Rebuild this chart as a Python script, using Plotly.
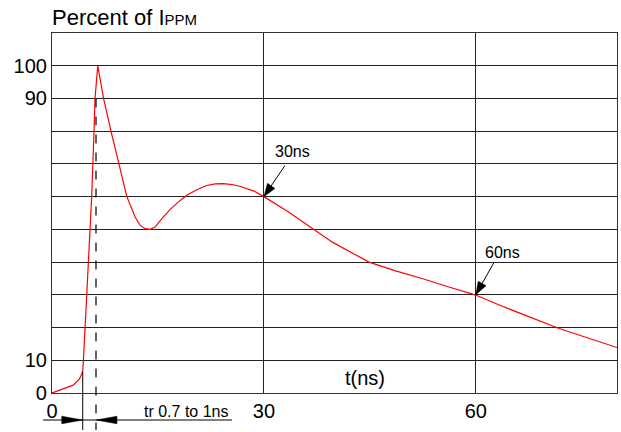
import plotly.graph_objects as go

# ---- data ----
t_ns = [0, 1.5, 3.0, 3.9, 4.25, 4.35, 4.45, 5.24, 5.48, 5.62, 5.95, 6.09, 6.48,
        7.3, 8.35, 9.5, 10.6, 11.3, 11.77, 12.48, 13.19, 13.9, 14.6,
        15.56, 16.74, 17.9, 19.1, 20.5, 21.9, 23.1, 24.3, 25.5, 26.7,
        28.6, 30.0, 33.5, 37.1, 39.7, 42.5, 44.9, 48.65, 52.4, 56.2,
        59.9, 64.0, 71.8, 80.0]
pct = [0, 1.1, 2.4, 4.3, 5.8, 6.5, 10, 45, 58, 60, 80, 90, 100,
       90, 80, 70, 60, 56.3, 53.8, 51.2, 50.2, 50, 50.7,
       53.3, 56.1, 58.4, 60.4, 62.1, 63.4, 63.9, 64.0, 63.7, 63.1,
       61.7, 60, 55.3, 50, 46.1, 42.8, 40, 37.3, 35, 32.4,
       30, 26.3, 19.7, 13.9]

x_ticks = [0, 30, 60]
x_tick_text = ["0", "30", "60"]
y_grid = [0, 10, 20, 30, 40, 50, 60, 70, 80, 90, 100, 110]
y_tick_text = ["0", "10", "", "", "", "", "", "", "", "90", "100", ""]

t_start = 4.35      # start of rise (knee of curve)
pct_start = 6.5
t_rise_end = 6.23   # dashed marker
pct_90 = 90
t_30, pct_30 = 30, 60
t_60, pct_60 = 60, 30

X_RANGE = [0, 80]
Y_RANGE = [0, 110]

# ---- layout geometry ----
W_FIG, H_FIG = 621, 432
L, R, T, B = 52, 4, 33, 39
PW, PH = W_FIG - L - R, H_FIG - T - B
FONT = "Arial, Liberation Sans, sans-serif"


def dx(v):
    return L + (v - X_RANGE[0]) / (X_RANGE[1] - X_RANGE[0]) * PW


def dy(v):
    return T + PH - (v - Y_RANGE[0]) / (Y_RANGE[1] - Y_RANGE[0]) * PH


def pp(px, py):
    return (px - L) / PW, (T + PH - py) / PH


shapes = []


def line_px(x0, y0, x1, y1, color="black", width=1, dash="solid"):
    a, b = pp(x0, y0)
    c, d = pp(x1, y1)
    shapes.append(dict(type="line", xref="paper", yref="paper", x0=a, y0=b, x1=c, y1=d,
                       line=dict(color=color, width=width, dash=dash), layer="above"))


def tri_px(tipx, tipy, tailx, taily, length, half):
    vx, vy = tipx - tailx, tipy - taily
    n = (vx ** 2 + vy ** 2) ** 0.5
    ux, uy = vx / n, vy / n
    bx, by = tipx - ux * length, tipy - uy * length
    nx, ny = -uy, ux
    pts = [(tipx, tipy), (bx + nx * half, by + ny * half), (bx - nx * half, by - ny * half)]
    ppts = [pp(a, b) for a, b in pts]
    path = "M " + " L ".join(f"{a:.5f},{b:.5f}" for a, b in ppts) + " Z"
    shapes.append(dict(type="path", xref="paper", yref="paper", path=path,
                       fillcolor="black", line=dict(color="black", width=0.5), layer="above"))


# 30ns / 60ns pointer arrows
for (tx, ty), (ox, oy) in [((t_30, pct_30), (21, -31)), ((t_60, pct_60), (18, -32))]:
    px, py = dx(tx), dy(ty)
    line_px(px + ox, py + oy, px, py, width=1)
    tri_px(px, py, px + ox, py + oy, 13, 4.5)

# rise-time dimension markers
y_dim = 420
x_a, x_b = dx(t_start), dx(t_rise_end)
line_px(x_a, dy(pct_start), x_a, 430, width=1)
line_px(x_b, dy(pct_90), x_b, 430, width=1.2, dash="dash")
line_px(43, y_dim, 232, y_dim, width=1)
tri_px(x_a, y_dim, x_a - 20, y_dim, 21, 3.8)
tri_px(x_b, y_dim, x_b + 20, y_dim, 21, 3.8)

fig = go.Figure()
fig.add_trace(go.Scatter(x=t_ns, y=pct, mode="lines",
                         line=dict(color="#ff0000", width=1.2), hoverinfo="skip"))

annotations = [
    dict(xref="paper", yref="paper", x=pp(50, 0)[0], y=pp(0, 18)[1], xanchor="left", yanchor="middle",
         text="Percent of I<span style='font-size:15px'>PPM</span>", showarrow=False,
         font=dict(family=FONT, size=22, color="black")),
    dict(xref="x", yref="y", x=44.3, y=4.6, text="t(ns)", showarrow=False,
         xanchor="center", yanchor="middle", font=dict(family=FONT, size=20, color="black")),
    dict(xref="paper", yref="paper", x=pp(186, 0)[0], y=pp(0, 411)[1], text="tr 0.7 to 1ns",
         showarrow=False, xanchor="center", yanchor="middle",
         font=dict(family=FONT, size=16, color="black")),
    dict(xref="paper", yref="paper", x=pp(292, 0)[0], y=pp(0, 151)[1], text="30ns",
         showarrow=False, xanchor="center", yanchor="middle",
         font=dict(family=FONT, size=16, color="black")),
    dict(xref="paper", yref="paper", x=pp(502, 0)[0], y=pp(0, 252)[1], text="60ns",
         showarrow=False, xanchor="center", yanchor="middle",
         font=dict(family=FONT, size=16, color="black")),
]

fig.update_layout(
    width=W_FIG, height=H_FIG,
    margin=dict(l=L, r=R, t=T, b=B, pad=0),
    plot_bgcolor="white", paper_bgcolor="white",
    showlegend=False,
    shapes=shapes,
    annotations=annotations,
    font=dict(family=FONT, color="black"),
)
fig.update_xaxes(range=X_RANGE, tickvals=x_ticks, ticktext=x_tick_text, ticks="",
                 showgrid=True, gridcolor="#222", gridwidth=1.2, zeroline=False,
                 showline=True, mirror=True, linecolor="#333", linewidth=1.2,
                 tickfont=dict(family=FONT, size=20, color="black"), fixedrange=True)
fig.update_yaxes(range=Y_RANGE, tickvals=y_grid, ticktext=y_tick_text, ticks="",
                 showgrid=True, gridcolor="#222", gridwidth=1.2, zeroline=False,
                 showline=True, mirror=True, linecolor="#333", linewidth=1.2,
                 tickfont=dict(family=FONT, size=20, color="black"), fixedrange=True)

fig.write_html("out.html", config={"displayModeBar": False},
               post_script="document.body.style.margin='0';document.body.style.overflow='hidden';")
